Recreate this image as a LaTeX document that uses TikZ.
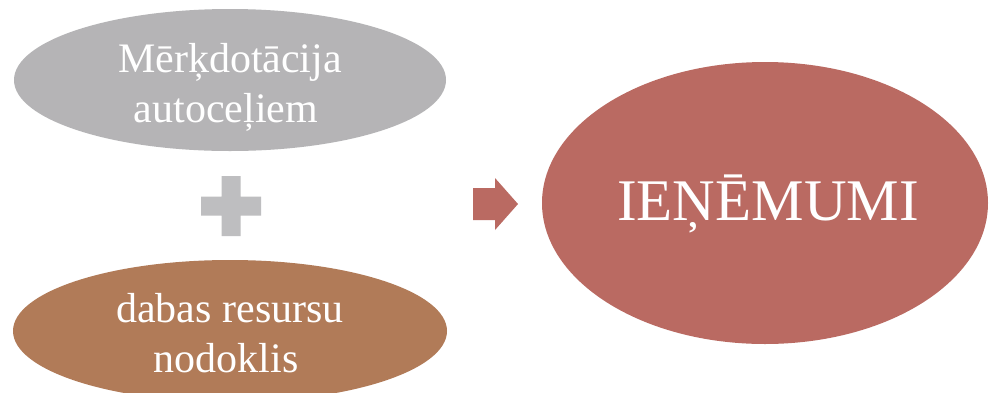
\documentclass[tikz,border=0pt]{standalone}
\usepackage{fontspec}
\setmainfont{Liberation Serif}
\usetikzlibrary{shapes.geometric}
\definecolor{ovalgray}{RGB}{181,180,182}
\definecolor{plusgray}{RGB}{190,190,192}
\definecolor{ovalbrown}{RGB}{177,123,88}
\definecolor{ovalred}{RGB}{186,106,98}
\tikzset{
  oval/.style={ellipse, draw=none, inner sep=0pt},
  txt/.style={text=white, inner sep=0pt, anchor=base, font=\fontsize{42}{50}\selectfont},
  bigtxt/.style={text=white, inner sep=0pt, anchor=base, font=\fontsize{59}{70}\selectfont},
}
\begin{document}
\begin{tikzpicture}[x=1pt,y=-1pt]
\useasboundingbox (0,0) rectangle (989,392);
\clip (0,0) rectangle (989,392);
\fill[white] (0,0) rectangle (989,392);
% ovals
\node[oval, fill=ovalgray, minimum width=432pt, minimum height=142pt] (top) at (230,80) {};
\node[oval, fill=ovalbrown, minimum width=434pt, minimum height=142pt] (bottom) at (230,331) {};
\node[oval, fill=ovalred, minimum width=446pt, minimum height=282pt] (result) at (765,203) {};
% texts
\node[txt] (t1) at (230,72) {Mērķdotācija};
\node[txt] (t2) at (226,122) {autoceļiem};
\node[txt] (b1) at (230,322) {dabas resursu};
\node[txt] (b2) at (226,372) {nodoklis};
\node[bigtxt] (r1) at (768,220) {IEŅĒMUMI};
% plus sign
\fill[plusgray] (221.5,176) -- (240.5,176) -- (240.5,196.5) -- (261,196.5) -- (261,215.5)
  -- (240.5,215.5) -- (240.5,236) -- (221.5,236) -- (221.5,215.5) -- (201,215.5)
  -- (201,196.5) -- (221.5,196.5) -- cycle;
% arrow
\fill[ovalred] (473,188) -- (495,188) -- (495,178) -- (518,204) -- (495,230) -- (495,220) -- (473,220) -- cycle;
\end{tikzpicture}
\end{document}
